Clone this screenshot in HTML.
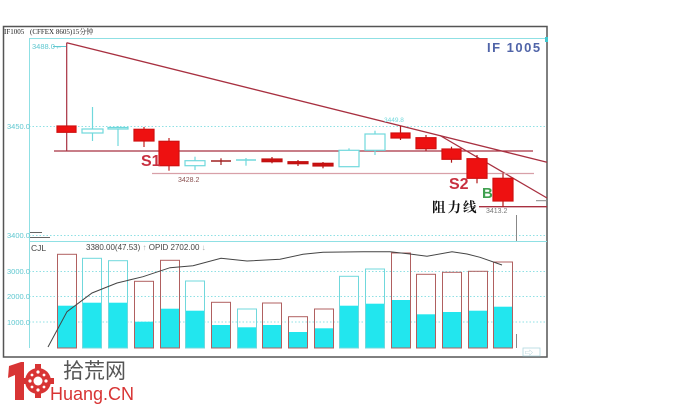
<!DOCTYPE html>
<html><head><meta charset="utf-8"><style>
html,body{margin:0;padding:0;background:#fff;}
svg{display:block;}
</style></head><body>
<svg width="690" height="411" viewBox="0 0 690 411" xmlns="http://www.w3.org/2000/svg" font-family="Liberation Sans, Noto Sans CJK SC, sans-serif">
<rect width="690" height="411" fill="#fff"/>
<!-- frame -->
<rect x="3.5" y="26.5" width="543.5" height="330.5" fill="none" stroke="#555" stroke-width="1.5"/>
<!-- header -->
<text x="4" y="34" font-size="7" font-family="Liberation Serif, Noto Serif CJK SC, serif" fill="#222">IF1005</text>
<text x="30" y="34" font-size="7" font-family="Liberation Serif, Noto Serif CJK SC, serif" fill="#222">(CFFEX 8605)15分钟</text>
<!-- axes / grid -->
<line x1="29" y1="38.5" x2="547" y2="38.5" stroke="#8fe0e4" stroke-width="1"/>
<line x1="29.5" y1="38" x2="29.5" y2="348" stroke="#8fe0e4" stroke-width="1"/>
<line x1="29" y1="126.5" x2="547" y2="126.5" stroke="#8fe0e4" stroke-dasharray="1.5,2"/>
<line x1="29" y1="235.5" x2="547" y2="235.5" stroke="#8fe0e4" stroke-dasharray="1.5,2"/>
<line x1="29" y1="241.5" x2="547" y2="241.5" stroke="#8fe0e4" stroke-width="1"/>
<line x1="29" y1="271.5" x2="547" y2="271.5" stroke="#8fe0e4" stroke-dasharray="1.5,2"/>
<line x1="29" y1="296.5" x2="547" y2="296.5" stroke="#8fe0e4" stroke-dasharray="1.5,2"/>
<line x1="29" y1="322" x2="547" y2="322" stroke="#8fe0e4" stroke-dasharray="1.5,2"/>
<rect x="545" y="37" width="3" height="5" fill="#40c8d0"/>
<!-- axis labels -->
<g font-size="7.5" fill="#60c8d0">
<text x="7" y="129">3450.0</text>
<text x="7" y="238">3400.0</text>
<text x="7" y="274">3000.0</text>
<text x="7" y="299">2000.0</text>
<text x="7" y="325">1000.0</text>
<text x="32" y="49">3488.0←</text>
</g>
<line x1="53" y1="46.5" x2="66" y2="46.5" stroke="#60c8d0"/>
<line x1="30" y1="232.5" x2="42" y2="232.5" stroke="#666"/>
<line x1="30" y1="237.5" x2="50" y2="237.5" stroke="#666"/>
<!-- title -->
<text x="487" y="52" font-size="13" font-weight="bold" fill="#5064a8" letter-spacing="1.5">IF 1005</text>

<!-- trend lines -->
<g stroke="#a83040" stroke-width="1.3" fill="none">
<line x1="66.7" y1="42.7" x2="547" y2="162.3"/>
<line x1="54" y1="151" x2="533" y2="151"/>
<line x1="440" y1="135.5" x2="547" y2="198"/>
<line x1="479" y1="206.7" x2="547" y2="206.7"/>
</g>
<line x1="152" y1="173.5" x2="534" y2="173.5" stroke="#d8a0a8" stroke-width="1.3"/>
<line x1="536" y1="200.7" x2="547" y2="200.7" stroke="#888" stroke-width="1"/>
<line x1="516.5" y1="215" x2="516.5" y2="241" stroke="#888" stroke-width="1"/>

<!-- candles -->
<g stroke-width="1.2">
<!-- c1 red -->
<line x1="66.7" y1="42.7" x2="66.7" y2="151" stroke="#a83040"/>
<rect x="57" y="126" width="19" height="6.3" fill="#ee1111" stroke="#d01010"/>
<!-- c2 cyan -->
<line x1="92.5" y1="107" x2="92.5" y2="141" stroke="#70d8dc"/>
<rect x="82" y="129" width="21" height="4" fill="#fff" stroke="#70d8dc"/>
<!-- c3 cyan doji -->
<line x1="118" y1="126" x2="118" y2="146" stroke="#70d8dc"/>
<rect x="108" y="127.5" width="20" height="1.5" fill="#fff" stroke="#70d8dc"/>
<!-- c4 red -->
<line x1="144" y1="127" x2="144" y2="147" stroke="#c02020"/>
<rect x="134" y="129.3" width="20" height="11.7" fill="#ee1111" stroke="#d01010"/>
<!-- c5 red -->
<line x1="169" y1="138" x2="169" y2="170.7" stroke="#c02020"/>
<rect x="159" y="141.3" width="20" height="24.4" fill="#ee1111" stroke="#d01010"/>
<!-- c6 cyan -->
<line x1="195" y1="156.7" x2="195" y2="170" stroke="#70d8dc"/>
<rect x="185" y="160.7" width="20" height="5" fill="#fff" stroke="#70d8dc"/>
<!-- c7 red doji -->
<line x1="221" y1="158.3" x2="221" y2="165" stroke="#a02020"/>
<line x1="211" y1="161" x2="231" y2="161" stroke="#a02020" stroke-width="1.5"/>
<!-- c8 cyan doji -->
<line x1="246" y1="158" x2="246" y2="165.7" stroke="#70d8dc"/>
<line x1="236" y1="160" x2="256" y2="160" stroke="#70d8dc" stroke-width="1.5"/>
<!-- c9 -->
<line x1="272" y1="157" x2="272" y2="163.3" stroke="#b01818"/>
<rect x="262" y="159" width="20" height="2.7" fill="#cc1111" stroke="#c01010"/>
<!-- c10 -->
<line x1="298" y1="160" x2="298" y2="166" stroke="#b01818"/>
<rect x="288" y="161.7" width="20" height="2" fill="#cc1111" stroke="#c01010"/>
<!-- c11 -->
<line x1="323" y1="162" x2="323" y2="168.3" stroke="#b01818"/>
<rect x="313" y="163.3" width="20" height="2.7" fill="#cc1111" stroke="#c01010"/>
<!-- c12 cyan -->
<line x1="349" y1="148.3" x2="349" y2="167" stroke="#70d8dc"/>
<rect x="339" y="150.3" width="20" height="16.4" fill="#fff" stroke="#70d8dc"/>
<!-- c13 cyan -->
<line x1="375" y1="130.7" x2="375" y2="155" stroke="#70d8dc"/>
<rect x="365" y="134" width="20" height="16.3" fill="#fff" stroke="#70d8dc"/>
<!-- c14 red -->
<line x1="400.5" y1="126" x2="400.5" y2="140" stroke="#b01818"/>
<rect x="391" y="133" width="19" height="5" fill="#ee1111" stroke="#d01010"/>
<!-- c15 -->
<line x1="426" y1="135" x2="426" y2="150.7" stroke="#b01818"/>
<rect x="416" y="137.7" width="20" height="11" fill="#ee1111" stroke="#d01010"/>
<!-- c16 -->
<line x1="451.5" y1="146.7" x2="451.5" y2="162.7" stroke="#b01818"/>
<rect x="442" y="149" width="19" height="10.3" fill="#ee1111" stroke="#d01010"/>
<!-- c17 -->
<line x1="477" y1="155" x2="477" y2="183.3" stroke="#b01818"/>
<rect x="467" y="158.7" width="20" height="19.6" fill="#ee1111" stroke="#d01010"/>
<!-- c18 -->
<line x1="503" y1="173.3" x2="503" y2="206.7" stroke="#b01818"/>
<rect x="493" y="178.3" width="20" height="22.7" fill="#ee1111" stroke="#d01010"/>
</g>

<!-- price annotations -->
<text x="384" y="122" font-size="6.5" fill="#70d8dc">3449.8</text>
<text x="178" y="182" font-size="7" fill="#8a5050">3428.2</text>
<text x="486" y="213" font-size="7" fill="#777">3413.2</text>
<text x="141" y="166" font-size="16" font-weight="bold" fill="#c83040">S1</text>
<text x="449" y="189" font-size="16" font-weight="bold" fill="#c83040">S2</text>
<text x="482" y="198" font-size="15" font-weight="bold" fill="#40a050">B</text>
<text x="432" y="212" font-size="13.5" font-weight="bold" fill="#111" letter-spacing="2" font-family="Noto Serif CJK SC, serif">阻力线</text>

<!-- volume panel labels -->
<text x="31" y="251" font-size="8.5" fill="#444">CJL</text>
<text x="86" y="250" font-size="8" fill="#444">3380.00(47.53) <tspan fill="#aaa">↑</tspan>  OPID  2702.00 <tspan fill="#aaa">↓</tspan></text>

<!-- volume bars -->
<g stroke-width="1">
<rect x="57" y="305.7" width="20" height="42.3" fill="#22e6ee"/><rect x="57.5" y="254.3" width="19" height="93.7" fill="none" stroke="#b06060"/>
<rect x="82" y="302.7" width="20" height="45.3" fill="#22e6ee"/><rect x="82.5" y="258.3" width="19" height="89.7" fill="none" stroke="#70d8dc"/>
<rect x="108" y="302.7" width="20" height="45.3" fill="#22e6ee"/><rect x="108.5" y="260.7" width="19" height="87.3" fill="none" stroke="#70d8dc"/>
<rect x="134" y="321.7" width="20" height="26.3" fill="#22e6ee"/><rect x="134.5" y="281.3" width="19" height="66.7" fill="none" stroke="#b06060"/>
<rect x="160" y="308.7" width="20" height="39.3" fill="#22e6ee"/><rect x="160.5" y="260.3" width="19" height="87.7" fill="none" stroke="#b06060"/>
<rect x="185" y="310.7" width="20" height="37.3" fill="#22e6ee"/><rect x="185.5" y="281" width="19" height="67" fill="none" stroke="#70d8dc"/>
<rect x="211" y="325" width="20" height="23" fill="#22e6ee"/><rect x="211.5" y="302.3" width="19" height="45.7" fill="none" stroke="#b06060"/>
<rect x="237" y="327.3" width="20" height="20.7" fill="#22e6ee"/><rect x="237.5" y="309" width="19" height="39" fill="none" stroke="#70d8dc"/>
<rect x="262" y="325" width="20" height="23" fill="#22e6ee"/><rect x="262.5" y="303" width="19" height="45" fill="none" stroke="#b06060"/>
<rect x="288" y="332" width="20" height="16" fill="#22e6ee"/><rect x="288.5" y="316.7" width="19" height="31.3" fill="none" stroke="#b06060"/>
<rect x="314" y="328.3" width="20" height="19.7" fill="#22e6ee"/><rect x="314.5" y="309" width="19" height="39" fill="none" stroke="#b06060"/>
<rect x="339" y="305.7" width="20" height="42.3" fill="#22e6ee"/><rect x="339.5" y="276.3" width="19" height="71.7" fill="none" stroke="#70d8dc"/>
<rect x="365" y="303.7" width="20" height="44.3" fill="#22e6ee"/><rect x="365.5" y="269" width="19" height="79" fill="none" stroke="#70d8dc"/>
<rect x="391" y="300" width="20" height="48" fill="#22e6ee"/><rect x="391.5" y="253" width="19" height="95" fill="none" stroke="#b06060"/>
<rect x="416" y="314.3" width="20" height="33.7" fill="#22e6ee"/><rect x="416.5" y="274.3" width="19" height="73.7" fill="none" stroke="#b06060"/>
<rect x="442" y="312" width="20" height="36" fill="#22e6ee"/><rect x="442.5" y="272.3" width="19" height="75.7" fill="none" stroke="#b06060"/>
<rect x="468" y="310.7" width="20" height="37.3" fill="#22e6ee"/><rect x="468.5" y="271.3" width="19" height="76.7" fill="none" stroke="#b06060"/>
<rect x="493" y="306.7" width="20" height="41.3" fill="#22e6ee"/><rect x="493.5" y="262" width="19" height="86" fill="none" stroke="#b06060"/>
</g>
<line x1="516.5" y1="334" x2="516.5" y2="348" stroke="#888"/>
<!-- OPID line -->
<polyline fill="none" stroke="#444" stroke-width="1" points="48,347 67,311.7 92,293 117,283 143,276.7 170,267.7 193,265.7 221,258.3 247,261 280,259.3 303,254.3 323,252.3 363,251.7 390,251.7 410,254 427,256.3 452,251.7 467,254 480,257.3 502,265"/>
<!-- small icon bottom right -->
<rect x="523" y="348" width="17" height="8" fill="none" stroke="#b0d8e0" stroke-width="0.8"/>
<text x="525" y="355.5" font-size="8" fill="#a0c8d0">⇨</text>

<!-- logo -->
<polygon points="9,366 21,362 24,362 24,400 15,400 15,375 8,378" fill="#d83434"/>
<circle cx="38" cy="381" r="13" fill="#d83434"/>
<g fill="#d83434">
<rect x="35" y="364" width="6" height="5"/><rect x="35" y="393" width="6" height="5"/>
<rect x="22" y="378" width="5" height="6"/><rect x="49" y="378" width="5" height="6"/>
</g>
<circle cx="38" cy="381" r="4.5" fill="#fff"/>
<circle cx="38" cy="372" r="1.6" fill="#fff"/><circle cx="38" cy="390" r="1.6" fill="#fff"/>
<circle cx="30" cy="381" r="1.6" fill="#fff"/><circle cx="46" cy="381" r="1.6" fill="#fff"/>
<circle cx="32" cy="375" r="1.4" fill="#fff"/><circle cx="44" cy="375" r="1.4" fill="#fff"/>
<circle cx="32" cy="387" r="1.4" fill="#fff"/><circle cx="44" cy="387" r="1.4" fill="#fff"/>
<text x="63" y="378" font-size="21" fill="#555" font-family="Liberation Sans, Noto Sans CJK SC, sans-serif">拾荒网</text>
<text x="50" y="400" font-size="18" fill="#d83434">Huang.CN</text>
</svg>
</body></html>
